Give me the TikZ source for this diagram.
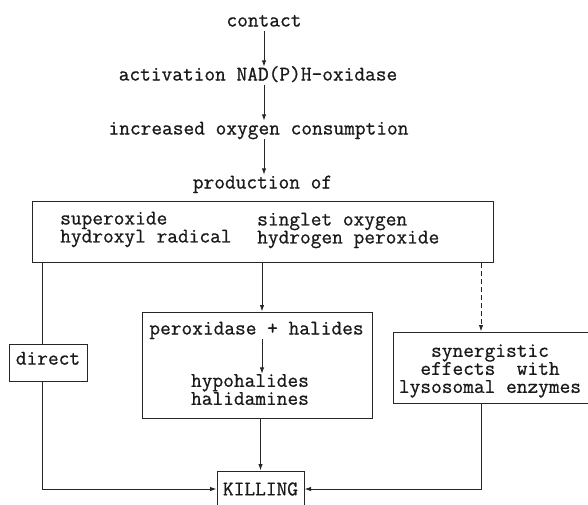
\documentclass[tikz,border=0pt]{standalone}
\usepackage{fontspec}
\usetikzlibrary{arrows.meta}
\setlength{\lineskiplimit}{-20pt}
\newfontfamily\diagtt{Latin Modern Mono}[FakeBold=0.8]
\newcommand\diagfont{\diagtt\fontsize{20.8}{18}\selectfont}
\begin{document}
\begin{tikzpicture}[x=1pt,y=-1pt,
  txt/.style={font=\diagfont, text=black!90, inner sep=0pt},
  lbl/.style={txt, text height=12pt, text depth=3pt, inner sep=1.5pt, anchor=base},
  box/.style={draw=black!85, line width=1pt, rectangle, inner sep=0pt},
  conn/.style={draw=black!85, line width=1pt},
  arr/.style={conn, -{Latex[length=6.5pt,width=4.5pt]}},
  dashline/.style={dash pattern=on 5pt off 3pt}
]
\useasboundingbox (0,0) rectangle (588,504);

% vertical chain
\node[lbl] (contact) at (264,26.5) {contact};
\node[lbl] (activ) at (258,80.5) {activation NAD(P)H-oxidase};
\node[lbl] (incr) at (258.5,134.5) {increased oxygen consumption};
\node[lbl] (prod) at (262.5,188.5) {production of};

\draw[arr] (contact.south) -- (contact.south |- activ.north);
\draw[arr] (contact.south |- activ.south) -- (contact.south |- incr.north);
\draw[arr] (contact.south |- incr.south) -- (contact.south |- prod.north);

% boxes
\node[box, minimum width=461pt, minimum height=61pt] (topbox) at (262.5,231.5) {};
\node[txt, align=left, anchor=west] (leftcol) at (60,229.5) {superoxide\\hydroxyl radical};
\node[txt, align=left, anchor=west] (rightcol) at (257,230.5) {singlet oxygen\\hydrogen peroxide};

\node[box, minimum width=230pt, minimum height=106pt] (perbox) at (257,365) {};
\node[txt, anchor=base] (perox) at (256.5,334.5) {peroxidase + halides};
\node[txt, align=center] (hypo) at (250,389.5) {hypohalides\\halidamines};

\node[box, txt, text height=1ex, text depth=0pt, minimum width=78pt, minimum height=37pt] (dirbox) at (48,362.5) {direct};

\node[box, minimum width=210pt, minimum height=71pt] (synbox) at (498,367.5) {};
\node[txt, align=center] (syntext) at (490,371) {synergistic\\effects\ \ with\\lysosomal enzymes};

\node[box, txt, minimum width=87pt, minimum height=36pt] (kill) at (260.5,489) {KILLING};

% connector columns
\coordinate (dx) at (42,0);
\coordinate (mx) at (262,0);
\coordinate (sx) at (481,0);

\draw[conn] (topbox.south -| dx) -- (dirbox.north -| dx);
\draw[arr] (dirbox.south -| dx) |- (kill.west);
\draw[arr] (topbox.south -| mx) -- (perbox.north -| mx);
\draw[arr] (perox.south -| mx) -- (hypo.north -| mx);
\draw[arr] (perbox.south -| kill.north) -- (kill.north);
\draw[arr, dashline] (topbox.south -| sx) -- (synbox.north -| sx);
\draw[arr] (synbox.south -| sx) |- (kill.east);
\end{tikzpicture}
\end{document}
